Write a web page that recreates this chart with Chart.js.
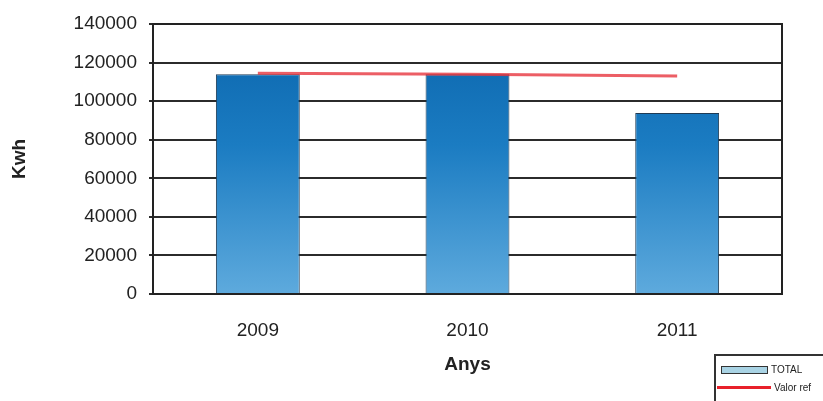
<!DOCTYPE html>
<html>
<head>
<meta charset="utf-8">
<script src="https://cdn.jsdelivr.net/npm/chart.js@4/dist/chart.umd.min.js"></script>
<style>
  html, body { margin: 0; padding: 0; background: #fff; overflow: hidden; }
  #wrap { position: relative; width: 823px; height: 401px; overflow: hidden; }
  #legend {
    position: absolute; left: 714px; top: 354px; width: 120px; height: 60px;
    border-top: 2px solid #333; border-left: 2px solid #333;
    font-family: Arial, "Liberation Sans", sans-serif; font-size: 10px; color: #222;
    white-space: nowrap;
  }
  .item { position: absolute; display: flex; align-items: center; }
</style>
</head>
<body>
<div id="wrap">
  <canvas id="chart1" width="823" height="401"></canvas>
  <div id="legend">
    <div class="item" style="left:5px;top:8px"><div style="width:45px;height:6px;border:1px solid #333;background:#a9d3e4;margin-right:3px"></div>TOTAL</div>
    <div class="item" style="left:1px;top:26px"><div style="width:54px;height:3px;background:#e8202a;margin-right:3px"></div>Valor ref</div>
  </div>
</div>
<script>
const years = ['2009', '2010', '2011'];
const totalKwh = [114000, 114000, 93800];
const refKwh = [114500, 114000, 113000];
const yTicks = [0, 20000, 40000, 60000, 80000, 100000, 120000, 140000];

const font = { family: 'Arial, "Liberation Sans", sans-serif', size: 19 };

function barGradient(context) {
    const area = context.chart.chartArea;
    if (!area) return '#1a74b8';
    const g = context.chart.ctx.createLinearGradient(0, area.top, 0, area.bottom);
    g.addColorStop(0, '#0a64ab');
    g.addColorStop(0.45, '#1b7cc2');
    g.addColorStop(1, '#5eaadd');
    return g;
}

const data = {
    labels: years,
    datasets: [{
        type: 'line',
        label: 'Valor ref',
        data: refKwh,
        borderColor: 'rgba(230,40,50,0.75)',
        borderWidth: 3,
        pointRadius: 0,
        order: 0
    }, {
        type: 'bar',
        label: 'TOTAL',
        data: totalKwh,
        backgroundColor: barGradient,
        borderColor: '#1f3b55',
        borderWidth: 1,
        barPercentage: 0.4,
        categoryPercentage: 1,
        order: 1
    }]
};

const config = {
    data,
    options: {
        responsive: false,
        animation: false,
        layout: { padding: { left: 0, right: 41, top: 24, bottom: 0 } },
        plugins: {
            legend: { display: false },
            tooltip: { enabled: false }
        },
        scales: {
            x: {
                offset: true,
                afterFit: (s) => { s.height = 107; },
                grid: { display: false },
                border: { color: '#222', width: 2 },
                ticks: { color: '#222', font, padding: 17 },
                title: {
                    display: true, text: 'Anys', color: '#222',
                    font: { family: font.family, size: 19, weight: 'bold' }, padding: { bottom: 25 }
                }
            },
            y: {
                min: 0, max: 140000,
                afterFit: (s) => { s.width = 153; },
                afterBuildTicks: (axis) => { axis.ticks = yTicks.map(v => ({ value: v })); },
                grid: { color: '#2b2b2b', lineWidth: 2, tickLength: 4 },
                border: { color: '#222', width: 2 },
                ticks: { color: '#222', font, padding: 12, callback: (v) => String(v) },
                title: {
                    display: true, text: 'Kwh', color: '#222',
                    font: { family: font.family, size: 19, weight: 'bold' }, padding: { top: 8 }
                }
            }
        }
    },
    plugins: [{
        id: 'frame',
        afterDraw(chart) {
            const { ctx, chartArea: a } = chart;
            ctx.save();
            ctx.strokeStyle = '#222';
            ctx.lineWidth = 2;
            ctx.beginPath();
            ctx.moveTo(a.left, a.top);
            ctx.lineTo(a.right, a.top);
            ctx.lineTo(a.right, a.bottom);
            ctx.stroke();
            ctx.restore();
        }
    }]
};

let chart1 = new Chart(document.getElementById('chart1'), config);
</script>
</body>
</html>
